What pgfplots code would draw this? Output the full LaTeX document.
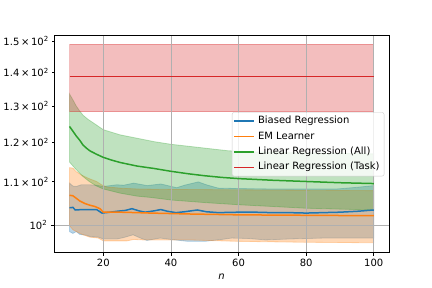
\documentclass[border=0pt]{standalone}
\usepackage{fontspec}
\setmainfont{DejaVu Sans}
\usepackage{pgfplots}
\pgfplotsset{compat=1.18}
\definecolor{tabblue}{HTML}{1F77B4}
\definecolor{taborange}{HTML}{FF7F0E}
\definecolor{tabgreen}{HTML}{2CA02C}
\definecolor{tabred}{HTML}{D62728}
\definecolor{gridgray}{HTML}{B0B0B0}
\definecolor{leggray}{HTML}{CCCCCC}
\begin{document}
\begin{tikzpicture}
\begin{axis}[
  set layers,
  at={(54.3pt,35.7pt)}, anchor=south west,
  scale only axis, width=334.7pt, height=216.6pt,
  xmin=5.5, xmax=104.5,
  ymode=log, ymin=94.2, ymax=151.8,
  xtick={20,40,60,80,100},
  xmajorgrids,
  ytick={100}, yticklabels={10\textsuperscript{2}},
  ymajorgrids,
  extra y ticks={110,120,130,140,150},
  extra y tick labels={1.1\,×\,10\textsuperscript{2},1.2\,×\,10\textsuperscript{2},1.3\,×\,10\textsuperscript{2},1.4\,×\,10\textsuperscript{2},1.5\,×\,10\textsuperscript{2}},
  extra y tick style={grid=none, major tick length=2pt},
  grid style={color=gridgray, line width=0.8pt},
  tick align=outside, tick pos=left,
  major tick length=3.5pt,
  tick style={black, line width=0.8pt},
  axis line style={line width=0.8pt},
  every tick label/.append style={font=\fontsize{10}{12}\selectfont},
  /pgf/number format/assume math mode=true,
  xlabel={\textit{n}},
  xlabel style={font=\fontsize{10}{12}\selectfont},
  legend style={at={(0.986,0.6464)}, anchor=north east, draw=leggray, fill=white, fill opacity=0.8, text opacity=1, draw opacity=1, rounded corners=2pt, font=\fontsize{10}{12}\selectfont, inner xsep=1.5pt, inner ysep=1pt, nodes={text height=7.5pt, text depth=2.5pt, inner ysep=2.7pt, inner xsep=3pt}},
  legend cell align=left,
  legend image code/.code={\draw[#1, opacity=1] (0pt,0pt) -- (20pt,0pt);},
]
% bands
\addplot[on layer=axis background, fill=tabblue, draw=tabblue, opacity=0.3, line width=0.8pt, forget plot] coordinates {
(10,109.7)(11,109.0)(12,108.9)(13.5,109.3)(16,109.3)(18,109.2)(20,108.9)(22,109.1)(24,109.3)(26,109.2)(29,109.7)(33,109.1)(37,109.5)(41.7,108.6)(44,109.2)(48.1,110.0)(50.5,109.3)(54,108.5)(60,108.4)(70,108.3)(80,108.3)(89,108.3)(95,108.7)(100,109.1)
(100,97.2)(85,97.2)(75,97.0)(68,96.8)(63,97.1)(58,97.2)(55,96.9)(50,96.5)(45,96.5)(40,96.9)(36.8,97.2)(32.9,96.7)(31,97.2)(28.8,97.9)(26,97.3)(24,97.0)(20,97.0)(18.5,97.4)(16.2,97.5)(15,97.8)(13,98.0)(12,98.6)(11,98.2)(10,98.6)
} -- cycle;
\addplot[on layer=axis background, fill=taborange, draw=taborange, opacity=0.3, line width=0.8pt, forget plot] coordinates {
(10,113.5)(11,113.4)(12,112.5)(13.5,111.7)(15.5,110.9)(18,110.1)(19.5,109.3)(21,108.8)(25,108.5)(30,108.3)(40,108.2)(60,108.1)(80,108.0)(100,107.9)
(100,96.2)(80,96.3)(70,96.4)(60,96.5)(50,96.7)(45,96.8)(36,96.8)(32,96.8)(29,96.9)(27,96.6)(20,96.6)(18.5,97.2)(16,97.4)(14,97.9)(12,98.6)(11,99.0)(10,99.9)
} -- cycle;
\addplot[on layer=axis background, fill=tabgreen, draw=tabgreen, opacity=0.3, line width=0.8pt, forget plot] coordinates {
(10,133.5)(11,131.8)(12,130.0)(13,128.6)(14,127.4)(15.4,126.3)(17,125.3)(20,123.4)(25,122.0)(30,121.1)(35,120.2)(40,119.5)(45,119.0)(50,118.5)(57,117.8)(65,117.5)(75,117.3)(85,117.2)(100,117.0)
(100,103.4)(90,103.6)(80,103.8)(70,104.2)(60,104.6)(50,105.1)(40,105.7)(34,106.3)(30,106.6)(25,107.3)(20,108.3)(18,109.0)(16,110.0)(14,111.3)(12,113.0)(10,114.9)
} -- cycle;
\addplot[on layer=axis background, fill=tabred, draw=tabred, opacity=0.3, line width=0.8pt, forget plot] coordinates {
(10,149.0)(100,149.0)(100,128.4)(10,128.4)
} -- cycle;
% lines
\addplot[tabblue, line width=1.5pt] coordinates {
(10,103.9)(11,104.0)(11.7,103.4)(14,103.5)(16,103.5)(18,103.5)(19.6,102.7)(22,102.9)(24,103.1)(26.5,103.3)(28.5,103.7)(30.5,103.2)(32.4,102.9)(35,103.2)(37,103.5)(39,103.1)(41.5,102.8)(44,103.0)(47.8,103.4)(50.5,103.0)(54,102.8)(60,102.9)(65,102.9)(70,102.8)(75,102.8)(80,102.7)(85,102.8)(90,102.9)(95,103.1)(100,103.4)
};
\addlegendentry{Biased Regression}
\addplot[taborange, line width=1.5pt] coordinates {
(10,106.8)(11,106.7)(12,106.1)(13,105.5)(14.5,104.9)(16,104.5)(17.5,104.2)(19,103.7)(20,102.9)(25,102.9)(30,102.8)(34,102.7)(45,102.5)(60,102.3)(80,102.2)(100,102.1)
};
\addlegendentry{EM Learner}
\addplot[tabgreen, line width=1.5pt] coordinates {
(10,124.3)(11,123.0)(12,121.7)(13,120.6)(14,119.3)(15,118.5)(16,117.8)(18,116.9)(20,116.1)(22.5,115.4)(25,114.8)(30,113.9)(35,113.3)(40,112.6)(45,112.0)(50,111.5)(55,111.1)(60,110.8)(70,110.4)(80,110.1)(90,109.8)(100,109.6)
};
\addlegendentry{Linear Regression (All)}
\addplot[tabred, line width=1.5pt] coordinates {
(10,138.7)(100,138.7)
};
\addlegendentry{Linear Regression (Task)}
\end{axis}
\pgfresetboundingbox
\useasboundingbox (0,0) rectangle (432pt,288pt);
\end{tikzpicture}
\end{document}
